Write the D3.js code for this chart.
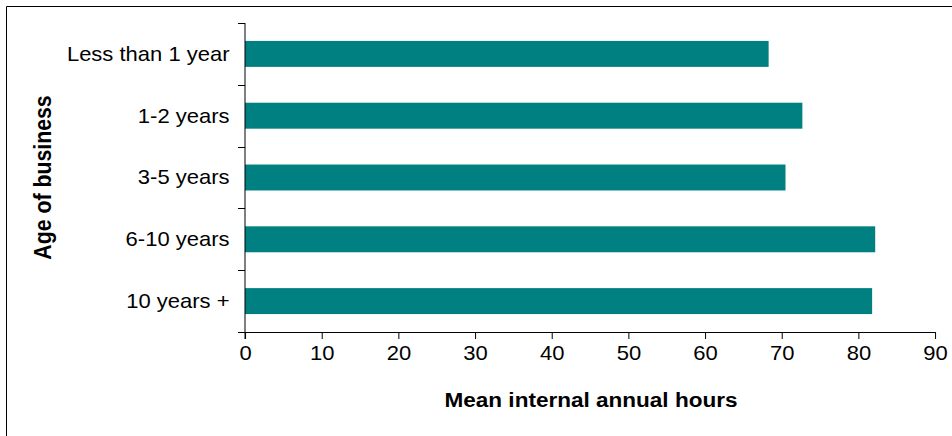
<!DOCTYPE html>
<html>
<head>
<meta charset="utf-8">
<script src="https://cdn.jsdelivr.net/npm/d3@7"></script>
<style>
  html, body { margin: 0; padding: 0; background: #fff; overflow: hidden; }
  svg { display: block; }
  text { font-family: Arial, "Liberation Sans", sans-serif; fill: #000; }
</style>
</head>
<body>
<script>
// Mean internal annual hours by age of business
const categories = ["Less than 1 year", "1-2 years", "3-5 years", "6-10 years", "10 years +"];
const meanHours = [68.3, 72.7, 70.5, 82.2, 81.8];
const xTicks = [0, 10, 20, 30, 40, 50, 60, 70, 80, 90];
const xTitle = "Mean internal annual hours";
const yTitle = "Age of business";

const W = 952, H = 436;
const sx = 1.1;              // horizontal stretch of the whole drawing
const vw = W / sx;           // drawing width in user units
const px = v => v / sx;      // screen x -> user x

const svg = d3.select("body").append("svg")
  .attr("width", W).attr("height", H)
  .attr("viewBox", `0 0 ${vw} ${H}`)
  .attr("preserveAspectRatio", "none");

// outer frame
svg.append("rect")
  .attr("x", px(6.5)).attr("y", 6.5)
  .attr("width", vw).attr("height", H)
  .attr("fill", "#fff").attr("stroke", "#000").attr("stroke-width", 1)
  .attr("vector-effect", "non-scaling-stroke");

const plot = { left: px(245), right: px(935), top: 23, bottom: 332 };

const x = d3.scaleLinear().domain([0, 90]).range([plot.left, plot.right]);
const y = d3.scaleBand().domain(categories).range([plot.top, plot.bottom])
  .paddingInner(0.58).paddingOuter(0.29);

const rows = categories.map((c, i) => ({ cat: c, value: meanHours[i] }));

// bars
svg.append("g").selectAll("rect").data(rows).join("rect")
  .attr("x", x(0))
  .attr("y", d => y(d.cat))
  .attr("width", d => x(d.value) - x(0))
  .attr("height", y.bandwidth())
  .attr("fill", "#008080");

// x axis
const xAxis = svg.append("g")
  .attr("transform", `translate(0,${plot.bottom})`)
  .call(d3.axisBottom(x).tickValues(xTicks).tickFormat(d3.format("d")).tickSize(7).tickPadding(7))
  .call(g => g.select(".domain").attr("d", `M${x(0) - px(7)},0.5H${x(90)}`));
xAxis.selectAll("line, path").attr("stroke", "#000").attr("vector-effect", "non-scaling-stroke");
xAxis.selectAll("text").attr("font-size", 20).attr("font-family", null).attr("fill", "#000");

// y axis: category labels centred in bands, ticks on band boundaries
const yAxis = svg.append("g").attr("transform", `translate(${x(0)},0)`);
yAxis.append("line")
  .attr("x1", 0).attr("x2", 0)
  .attr("y1", plot.top).attr("y2", plot.bottom + 7)
  .attr("stroke", "#000").attr("vector-effect", "non-scaling-stroke");
const bounds = d3.range(categories.length + 1).map(i => plot.top + i * y.step());
yAxis.selectAll("line.tick").data(bounds).join("line")
  .attr("class", "tick")
  .attr("x1", -px(7)).attr("x2", 0)
  .attr("y1", d => Math.round(d) + 0.5).attr("y2", d => Math.round(d) + 0.5)
  .attr("stroke", "#000").attr("vector-effect", "non-scaling-stroke");
yAxis.selectAll("text").data(categories).join("text")
  .attr("x", -px(15.5))
  .attr("y", d => y(d) + y.bandwidth() / 2)
  .attr("dy", "0.35em")
  .attr("text-anchor", "end")
  .attr("font-size", 20)
  .text(d => d);

// axis titles
svg.append("text")
  .attr("x", px(591)).attr("y", 407)
  .attr("text-anchor", "middle")
  .attr("font-size", 20.5).attr("font-weight", "bold")
  .text(xTitle);

svg.append("text")
  .attr("transform", `translate(${px(51)},${(plot.top + plot.bottom) / 2}) rotate(-90)`)
  .attr("text-anchor", "middle")
  .attr("font-size", 21.3).attr("font-weight", "bold")
  .text(yTitle);
</script>
</body>
</html>
